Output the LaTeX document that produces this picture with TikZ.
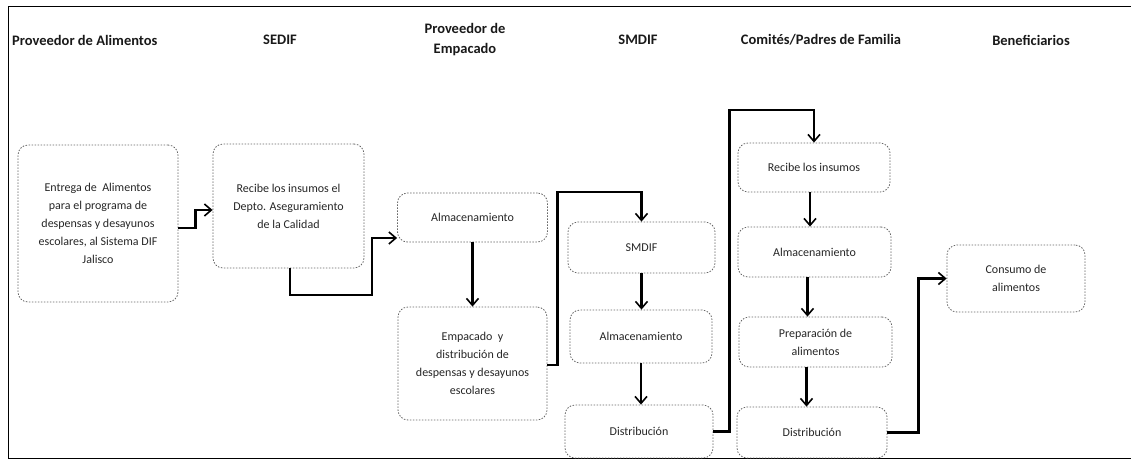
\documentclass[tikz,border=0pt]{standalone}
\usepackage{fontspec}
\setmainfont{Carlito}
\usetikzlibrary{arrows.meta,calc}
\tikzset{
  box/.style={draw=black!60, line width=0.8pt, dash pattern=on 1.5pt off 1.5pt,
    rounded corners=10pt, align=center, inner sep=0pt, text=black!85,
    font=\fontsize{12}{18}\selectfont},
  hdr/.style={font=\bfseries\fontsize{14.5}{20}\selectfont, align=center, inner sep=0pt, text=black!90},
  conn/.style={draw=black, line width=2.2pt, -{Straight Barb[length=7pt,width=12pt,line width=1.6pt]}},
  frame/.style={draw=black, line width=0.9pt}
}
\begin{document}
\begin{tikzpicture}[x=1pt,y=-1pt]
\useasboundingbox (0,0) rectangle (1131,464);
% frame
\draw[frame] (8,458) -- (8,6) -- (1131,6);
\draw[frame] (8,458) -- (1131,458);
% headers
\node[hdr, anchor=west] (h1) at (12,40) {Proveedor de Alimentos};
\node[hdr] (h2) at (280,40) {SEDIF};
\node[hdr] (h3) at (465,40) {Proveedor de\\Empacado};
\node[hdr] (h4) at (638,40) {SMDIF};
\node[hdr] (h5) at (821,40) {Comités/Padres de Familia};
\node[hdr] (h6) at (1031,40) {Beneficiarios};
% boxes
\node[box, minimum width=160, minimum height=157] (A) at (98,223.5)
  {Entrega de\ \ Alimentos\\para el programa de\\despensas y desayunos\\escolares, al Sistema DIF\\Jalisco};
\node[box, minimum width=151, minimum height=124] (B) at (288.5,206)
  {Recibe los insumos el\\Depto. Aseguramiento\\de la Calidad};
\node[box, minimum width=150, minimum height=49] (C) at (472.5,217.5) {Almacenamiento};
\node[box, minimum width=149, minimum height=113] (D) at (472.5,363.5)
  {Empacado\ \ y\\distribución de\\despensas y desayunos\\escolares};
\node[box, minimum width=147, minimum height=51] (E) at (641.5,247.5) {SMDIF};
\node[box, minimum width=142, minimum height=53] (F) at (641,336.5) {Almacenamiento};
\node[box, minimum width=148, minimum height=53] (G) at (639,431.5) {Distribución};
\node[box, minimum width=152, minimum height=49] (H) at (814,167.5) {Recibe los insumos};
\node[box, minimum width=153, minimum height=50] (I) at (814.5,252) {Almacenamiento};
\node[box, minimum width=153, minimum height=50] (J) at (815.5,342) {Preparación de\\alimentos};
\node[box, minimum width=150, minimum height=51] (K) at (812,432.5) {Distribución};
\node[box, minimum width=138, minimum height=67] (L) at (1016,278.5) {Consumo de\\alimentos};
% connectors
\draw[conn] ([yshift=-4.5pt]A.east) -- ++(17,0) |- ([yshift=-4pt]B.west);
\draw[conn] ([xshift=1.5pt]B.south) |- (372,295) |- ([yshift=-20.5pt]C.west);
\draw[conn] (C.south) -- (D.north);
\draw[conn] ([yshift=-1.5pt]D.east) -- ++(10,0) |- ([yshift=30pt]E.north) -- (E.north);
\draw[conn] (E.south) -- (E.south |- F.north);
\draw[conn] (F.south) -- (F.south |- G.north);
\draw[conn] (G.east) -- ++(16,0) |- ([yshift=33pt]H.north) -- (H.north);
\draw[conn] ([xshift=-4pt]H.south) -- ([xshift=-4pt]H.south |- I.north);
\draw[conn] ([xshift=-7pt]I.south) -- ([xshift=-7pt]I.south |- J.north);
\draw[conn] ([xshift=-9pt]J.south) -- ([xshift=-9pt]J.south |- K.north);
\draw[conn] (K.east) -- ++(31,0) |- (L.west);
\end{tikzpicture}
\end{document}
